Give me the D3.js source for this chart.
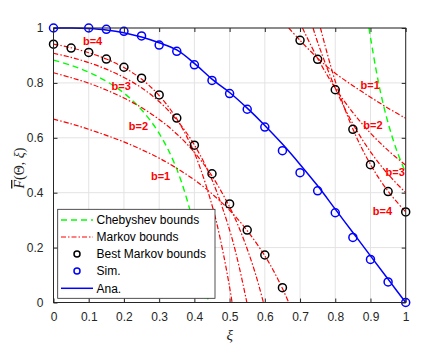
<!DOCTYPE html>
<html>
<head>
<meta charset="utf-8">
<script src="https://cdn.jsdelivr.net/npm/d3@7"></script>
<style>
  html, body { margin: 0; padding: 0; background: #fff; }
  svg { display: block; }
  text { font-family: "Liberation Sans", Arial, Helvetica, sans-serif; }
</style>
</head>
<body>
<svg id="chart" width="439" height="360"></svg>
<script>
// ---------------- data ----------------
const xTicks = [0, 0.1, 0.2, 0.3, 0.4, 0.5, 0.6, 0.7, 0.8, 0.9, 1];
const yTicks = [0, 0.2, 0.4, 0.6, 0.8, 1];
const xTickLabels = ["0", "0.1", "0.2", "0.3", "0.4", "0.5", "0.6", "0.7", "0.8", "0.9", "1"];
const yTickLabels = ["0", "0.2", "0.4", "0.6", "0.8", "1"];

// Chebyshev bounds (lower branch, upper branch)
const chebLowX = [0, 0.05, 0.1, 0.15, 0.2, 0.25, 0.3, 0.35, 0.4, 0.425, 0.44];
const chebLowY = [0.883, 0.864, 0.839, 0.806, 0.763, 0.702, 0.616, 0.486, 0.276, 0.119, 0];
const chebUpX = [0.896, 0.9, 0.925, 0.95, 0.975, 1];
const chebUpY = [1, 0.966, 0.787, 0.654, 0.552, 0.472];

// Markov bounds, left group (b = 1..4)
const markL1X = [0, 0.05, 0.1, 0.15, 0.2, 0.25, 0.3, 0.35, 0.4, 0.45, 0.5, 0.55, 0.6, 0.625, 0.65, 0.668];
const markL1Y = [0.668, 0.651, 0.631, 0.609, 0.585, 0.557, 0.526, 0.489, 0.447, 0.396, 0.336, 0.262, 0.170, 0.115, 0.051, 0];
const markL2X = [0, 0.05, 0.1, 0.15, 0.2, 0.25, 0.3, 0.35, 0.4, 0.45, 0.5, 0.525, 0.55, 0.575, 0.596];
const markL2Y = [0.837, 0.819, 0.799, 0.774, 0.745, 0.710, 0.667, 0.614, 0.547, 0.461, 0.348, 0.278, 0.195, 0.098, 0];
const markL3X = [0, 0.05, 0.1, 0.15, 0.2, 0.25, 0.3, 0.35, 0.4, 0.45, 0.5, 0.525, 0.549];
const markL3Y = [0.908, 0.893, 0.874, 0.850, 0.820, 0.782, 0.732, 0.665, 0.574, 0.447, 0.264, 0.142, 0];
const markL4X = [0, 0.05, 0.1, 0.15, 0.2, 0.25, 0.3, 0.35, 0.4, 0.45, 0.475, 0.5, 0.507];
const markL4Y = [0.941, 0.928, 0.910, 0.887, 0.856, 0.814, 0.754, 0.669, 0.545, 0.355, 0.223, 0.056, 0];

// Markov bounds, right group (b = 1..4)
const markR1X = [0.668, 0.7, 0.75, 0.8, 0.85, 0.9, 0.95, 1];
const markR1Y = [1, 0.955, 0.890, 0.835, 0.790, 0.748, 0.708, 0.671];
const markR2X = [0.707, 0.75, 0.8, 0.85, 0.9, 0.95, 1];
const markR2Y = [1, 0.889, 0.781, 0.692, 0.617, 0.554, 0.5];
const markR3X = [0.737, 0.75, 0.8, 0.85, 0.9, 0.95, 1];
const markR3Y = [1, 0.948, 0.781, 0.651, 0.549, 0.467, 0.4];
const markR4X = [0.758, 0.8, 0.85, 0.9, 0.95, 1];
const markR4Y = [1, 0.806, 0.632, 0.503, 0.405, 0.33];

// Best Markov bounds (circles)
const bestX = [0, 0.05, 0.1, 0.15, 0.2, 0.25, 0.3, 0.35, 0.4, 0.45, 0.5, 0.55, 0.6, 0.65,
               0.7, 0.75, 0.8, 0.85, 0.9, 0.95, 1];
const bestY = [0.941, 0.927, 0.911, 0.887, 0.857, 0.817, 0.756, 0.672, 0.573, 0.469, 0.359, 0.264, 0.173, 0.054,
               0.955, 0.886, 0.775, 0.631, 0.502, 0.404, 0.330];

// Simulation (circles)
const simX = [0, 0.1, 0.15, 0.2, 0.25, 0.3, 0.35, 0.4, 0.45, 0.5, 0.55, 0.6, 0.65, 0.7, 0.75, 0.8, 0.85, 0.9, 0.95, 1];
const simY = [1, 1, 0.995, 0.988, 0.971, 0.938, 0.915, 0.866, 0.809, 0.761, 0.704, 0.639, 0.553, 0.473, 0.407, 0.327, 0.237, 0.157, 0.075, 0];

// Analytical curve
const anaX = [0, 0.05, 0.1, 0.15, 0.2, 0.25, 0.3, 0.35, 0.4, 0.45, 0.5, 0.55, 0.6, 0.65, 0.7, 0.75, 0.8, 0.85, 0.9, 0.95, 1];
const anaY = [1, 1, 0.998, 0.993, 0.983, 0.967, 0.946, 0.92, 0.871, 0.814, 0.765, 0.708, 0.645, 0.577, 0.503, 0.425, 0.34, 0.255, 0.17, 0.085, 0];

// Annotation labels
const labelText = ["b=4", "b=3", "b=2", "b=1", "b=1", "b=2", "b=3", "b=4"];
const labelX = [0.111, 0.192, 0.241, 0.304, 0.899, 0.907, 0.970, 0.934];
const labelY = [0.953, 0.789, 0.643, 0.461, 0.792, 0.647, 0.474, 0.333];

const legendNames = ["Chebyshev bounds", "Markov bounds", "Best Markov bounds", "Sim.", "Ana."];

// ---------------- drawing ----------------
const svg = d3.select("#chart");
const L = 53.5, R = 405.7, T = 28, B = 302.5;
const x = d3.scaleLinear().domain([0, 1]).range([L, R]);
const y = d3.scaleLinear().domain([0, 1]).range([B, T]);
const axisCol = "#262626";
const GREEN = "#00ff00", RED = "#ff0000", BLUE = "#0000ff";

svg.append("defs").append("clipPath").attr("id", "clip")
  .append("rect").attr("x", L).attr("y", T).attr("width", R - L).attr("height", B - T);

// grid
const grid = svg.append("g");
xTicks.forEach(t => grid.append("line").attr("x1", x(t)).attr("x2", x(t)).attr("y1", T).attr("y2", B)
  .attr("stroke", "#e3e3e3").attr("stroke-width", 1));
yTicks.forEach(t => grid.append("line").attr("x1", L).attr("x2", R).attr("y1", y(t)).attr("y2", y(t))
  .attr("stroke", "#e3e3e3").attr("stroke-width", 1));

// axes
const fmtX = (d, i) => xTickLabels[i];
const fmtY = (d, i) => yTickLabels[i];
const styleAxis = g => {
  g.select(".domain").remove();
  g.selectAll("line").attr("stroke", axisCol);
  g.selectAll("text").attr("fill", axisCol).style("font-size", "12px");
};
svg.append("g").attr("transform", `translate(0,${B})`)
  .call(d3.axisBottom(x).tickValues(xTicks).tickFormat(fmtX).tickSizeInner(-4).tickSizeOuter(0).tickPadding(10))
  .call(styleAxis);
svg.append("g").attr("transform", `translate(0,${T})`)
  .call(d3.axisTop(x).tickValues(xTicks).tickFormat("").tickSizeInner(-4).tickSizeOuter(0))
  .call(styleAxis);
svg.append("g").attr("transform", `translate(${L},0)`)
  .call(d3.axisLeft(y).tickValues(yTicks).tickFormat(fmtY).tickSizeInner(-4).tickSizeOuter(0).tickPadding(10))
  .call(styleAxis);
svg.append("g").attr("transform", `translate(${R},0)`)
  .call(d3.axisRight(y).tickValues(yTicks).tickFormat("").tickSizeInner(-4).tickSizeOuter(0))
  .call(styleAxis);

// series
const plot = svg.append("g").attr("clip-path", "url(#clip)");
const line = d3.line().x(d => x(d[0])).y(d => y(d[1])).curve(d3.curveCatmullRom.alpha(0.5));
const zip = (a, b) => a.map((v, i) => [v, b[i]]);

[[chebLowX, chebLowY], [chebUpX, chebUpY]].forEach(([xs, ys]) =>
  plot.append("path").attr("d", line(zip(xs, ys))).attr("fill", "none")
    .attr("stroke", GREEN).attr("stroke-width", 1.4).attr("stroke-dasharray", "6,4"));

[[markL1X, markL1Y], [markL2X, markL2Y], [markL3X, markL3Y], [markL4X, markL4Y],
 [markR1X, markR1Y], [markR2X, markR2Y], [markR3X, markR3Y], [markR4X, markR4Y]].forEach(([xs, ys]) =>
  plot.append("path").attr("d", line(zip(xs, ys))).attr("fill", "none")
    .attr("stroke", RED).attr("stroke-width", 1.2).attr("stroke-dasharray", "5,2,1.5,2"));

svg.append("g").selectAll("circle").data(zip(bestX, bestY)).join("circle")
  .attr("cx", d => x(d[0])).attr("cy", d => y(d[1])).attr("r", 4)
  .attr("fill", "none").attr("stroke", "#000").attr("stroke-width", 1.5);

svg.append("g").selectAll("circle").data(zip(simX, simY)).join("circle")
  .attr("cx", d => x(d[0])).attr("cy", d => y(d[1])).attr("r", 4)
  .attr("fill", "none").attr("stroke", BLUE).attr("stroke-width", 1.5);

svg.append("path").attr("d", line(zip(anaX, anaY))).attr("fill", "none")
  .attr("stroke", BLUE).attr("stroke-width", 1.5);

// box
svg.append("rect").attr("x", L).attr("y", T).attr("width", R - L).attr("height", B - T)
  .attr("fill", "none").attr("stroke", axisCol).attr("stroke-width", 1);

// annotation labels
svg.append("g").selectAll("text").data(labelText).join("text")
  .attr("x", (d, i) => x(labelX[i])).attr("y", (d, i) => y(labelY[i]))
  .attr("text-anchor", "middle").attr("dominant-baseline", "central")
  .attr("fill", RED).style("font-size", "11px").style("font-weight", "bold").text(d => d);

// axis labels
svg.append("text").attr("x", (L + R) / 2).attr("y", 340).attr("text-anchor", "middle")
  .style("font-family", "'Liberation Serif', serif").style("font-style", "italic").style("font-size", "15px")
  .attr("fill", axisCol).text("ξ");

const yl = svg.append("text").attr("transform", "translate(24,168) rotate(-90)")
  .attr("text-anchor", "middle").attr("fill", axisCol)
  .style("font-family", "'Liberation Serif', serif").style("font-size", "14px");
yl.append("tspan").style("font-style", "italic").style("text-decoration", "overline").text("F");
yl.append("tspan").text("(Θ, ");
yl.append("tspan").style("font-style", "italic").text("ξ");
yl.append("tspan").text(")");

// legend
const lg = svg.append("g");
lg.append("rect").attr("x", 57.7).attr("y", 209.3).attr("width", 157.3).attr("height", 89)
  .attr("fill", "#fff").attr("stroke", axisCol).attr("stroke-width", 0.8);
const rowY = [220, 237, 254, 271, 288.3];
legendNames.forEach((name, i) => {
  const yy = rowY[i];
  if (i === 0) lg.append("line").attr("x1", 61).attr("x2", 93).attr("y1", yy).attr("y2", yy)
    .attr("stroke", GREEN).attr("stroke-width", 1.4).attr("stroke-dasharray", "6,4");
  if (i === 1) lg.append("line").attr("x1", 61).attr("x2", 93).attr("y1", yy).attr("y2", yy)
    .attr("stroke", RED).attr("stroke-width", 1.2).attr("stroke-dasharray", "5,2,1.5,2");
  if (i === 2) lg.append("circle").attr("cx", 77).attr("cy", yy).attr("r", 3)
    .attr("fill", "none").attr("stroke", "#000").attr("stroke-width", 1.5);
  if (i === 3) lg.append("circle").attr("cx", 77).attr("cy", yy).attr("r", 3)
    .attr("fill", "none").attr("stroke", BLUE).attr("stroke-width", 1.5);
  if (i === 4) lg.append("line").attr("x1", 61).attr("x2", 93).attr("y1", yy).attr("y2", yy)
    .attr("stroke", BLUE).attr("stroke-width", 1.5);
  lg.append("text").attr("x", 96.5).attr("y", yy + 4.3).attr("fill", "#000")
    .style("font-size", "12px").text(name);
});
</script>
</body>
</html>
